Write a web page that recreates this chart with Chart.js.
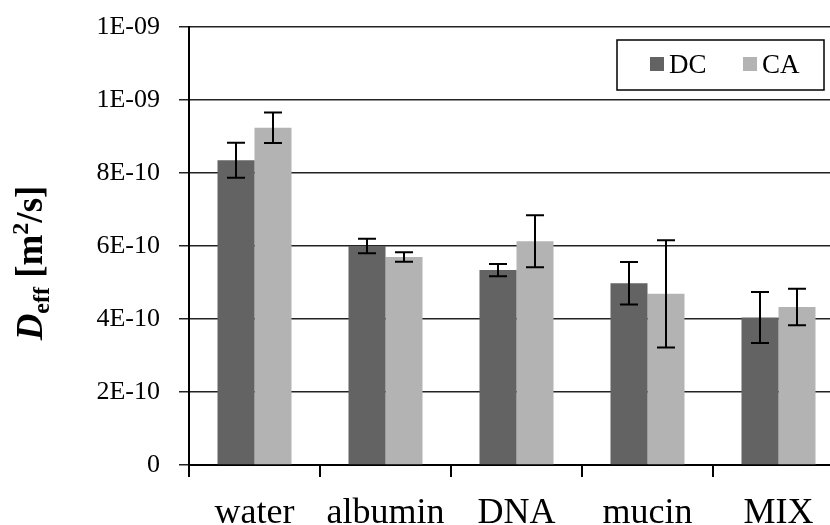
<!DOCTYPE html>
<html>
<head>
<meta charset="utf-8">
<script src="https://cdn.jsdelivr.net/npm/chart.js@4.4.0/dist/chart.umd.min.js"></script>
<style>
  html, body { margin: 0; padding: 0; background: #fff; overflow: hidden; }
  #wrap { width: 830px; height: 525px; overflow: hidden; }
</style>
</head>
<body>
<div id="wrap"><canvas id="myChart" width="850" height="525"></canvas></div>
<script>
// values (m2/s)
const categories = ['water', 'albumin', 'DNA', 'mucin', 'MIX'];
const dcValues = [8.35e-10, 6.00e-10, 5.34e-10, 4.98e-10, 4.04e-10];
const dcErrors = [0.48e-10, 0.20e-10, 0.17e-10, 0.58e-10, 0.70e-10];
const caValues = [9.24e-10, 5.70e-10, 6.13e-10, 4.69e-10, 4.33e-10];
const caErrors = [0.42e-10, 0.13e-10, 0.71e-10, 1.47e-10, 0.50e-10];
const yTicks = [0, 2e-10, 4e-10, 6e-10, 8e-10, 1e-9, 1.2e-9];

const serif = "'Liberation Serif', 'Times New Roman', serif";

// excel style 0E+00
const sciLabel = (v)=>{
    if (Math.abs(v) < 1e-20) return '0';
    let [m, e] = v.toExponential(0).split('e');
    let n = parseInt(e);
    return m + 'E' + (n < 0 ? '-' : '+') + String(Math.abs(n)).padStart(2, '0');
};

const errorBars = {
    id: 'errorBars',
    afterDatasetsDraw(chart) {
        const ctx = chart.ctx;
        const y = chart.scales.y;
        const errs = [dcErrors, caErrors];
        ctx.save();
        ctx.strokeStyle = '#000';
        ctx.lineWidth = 2;
        chart.data.datasets.forEach((ds, i)=>{
            const meta = chart.getDatasetMeta(i);
            meta.data.forEach((bar, j)=>{
                const top = y.getPixelForValue(ds.data[j] + errs[i][j]);
                const bot = y.getPixelForValue(ds.data[j] - errs[i][j]);
                ctx.beginPath();
                ctx.moveTo(bar.x, top); ctx.lineTo(bar.x, bot);
                ctx.moveTo(bar.x - 9, top); ctx.lineTo(bar.x + 9, top);
                ctx.moveTo(bar.x - 9, bot); ctx.lineTo(bar.x + 9, bot);
                ctx.stroke();
            });
        });
        ctx.restore();
    }
};

const legendBox = {
    id: 'legendBox',
    afterDraw(chart) {
        const ctx = chart.ctx;
        const area = chart.chartArea;
        const right = area.right - 20;
        const left = right - 207;
        const top = area.top + 13;
        ctx.save();
        ctx.fillStyle = '#fff';
        ctx.fillRect(left, top, right - left, 50);
        ctx.strokeStyle = '#000';
        ctx.lineWidth = 1.5;
        ctx.strokeRect(left, top, right - left, 50);
        ctx.font = '27px ' + serif;
        ctx.textBaseline = 'middle';
        let x = left + 33;
        chart.data.datasets.forEach((ds)=>{
            ctx.fillStyle = ds.backgroundColor;
            ctx.fillRect(x, top + 17, 14, 14);
            ctx.fillStyle = '#000';
            ctx.fillText(ds.label, x + 19, top + 26);
            x += 93;
        });
        ctx.restore();
    }
};

const yTitle = {
    id: 'yTitle',
    afterDraw(chart) {
        const ctx = chart.ctx;
        const parts = [
            {t: 'D', f: 'italic bold 37px ' + serif, dy: 0},
            {t: 'eff', f: 'bold 24px ' + serif, dy: 7},
            {t: ' [m', f: 'bold 37px ' + serif, dy: 0},
            {t: '2', f: 'bold 24px ' + serif, dy: -14},
            {t: '/s]', f: 'bold 37px ' + serif, dy: 0}
        ];
        ctx.save();
        let total = 0;
        parts.forEach(p=>{ ctx.font = p.f; total += ctx.measureText(p.t).width; });
        ctx.translate(42, 263);
        ctx.rotate(-Math.PI / 2);
        ctx.fillStyle = '#000';
        ctx.textBaseline = 'alphabetic';
        let x = -total / 2;
        parts.forEach(p=>{
            ctx.font = p.f;
            ctx.fillText(p.t, x, p.dy);
            x += ctx.measureText(p.t).width;
        });
        ctx.restore();
    }
};

const config = {
    type: 'bar',
    data: {
        labels: categories,
        datasets: [
            { label: 'DC', data: dcValues, backgroundColor: '#636363' },
            { label: 'CA', data: caValues, backgroundColor: '#b3b3b3' }
        ]
    },
    options: {
        responsive: false,
        animation: false,
        layout: { padding: { top: 27, right: 6, left: 0, bottom: 0 } },
        datasets: { bar: { categoryPercentage: 0.565, barPercentage: 1.0 } },
        plugins: { legend: { display: false }, tooltip: { enabled: false } },
        scales: {
            x: {
                grid: { drawOnChartArea: false, color: '#000', lineWidth: 2, tickLength: 12 },
                border: { color: '#000', width: 2 },
                ticks: { color: '#000', font: { family: serif, size: 36 }, padding: 15 },
                afterFit: (s)=>{ s.height = 60; s.paddingLeft = 0; s.paddingRight = 0; }
            },
            y: {
                min: 0,
                max: 1.2e-9,
                afterBuildTicks: (s)=>{ s.ticks = yTicks.map(v=>({ value: v })); },
                grid: { color: '#222', lineWidth: 1.5, tickLength: 10 },
                border: { color: '#000', width: 2 },
                ticks: { color: '#000', font: { family: serif, size: 26 }, padding: 19, callback: sciLabel },
                afterFit: (s)=>{ s.width = 189; s.paddingTop = 0; s.paddingBottom = 0; }
            }
        }
    },
    plugins: [errorBars, legendBox, yTitle]
};

new Chart(document.getElementById('myChart'), config);
</script>
</body>
</html>
